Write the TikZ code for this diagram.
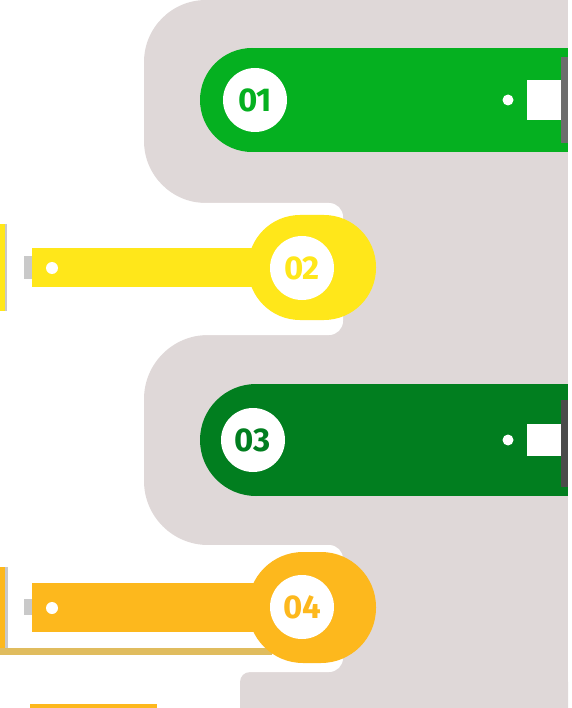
\documentclass[tikz,border=0pt]{standalone}
\usepackage{fontspec}
\setmainfont{Fira Sans}
\definecolor{grisbanda}{HTML}{DFD8D8}
\definecolor{verde}{HTML}{05B020}
\definecolor{verdeosc}{HTML}{017E1F}
\definecolor{amarillo}{HTML}{FFE71A}
\definecolor{naranja}{HTML}{FDB81D}
\definecolor{dorado}{HTML}{E0BC5E}
\definecolor{gristab}{HTML}{C9C9C9}
\definecolor{grisbarra}{HTML}{6D6D6D}
\definecolor{grisbarraosc}{HTML}{4B4B4B}
\begin{document}
\begin{tikzpicture}[x=1pt,y=-1pt,
    badge/.style={circle,fill=white,minimum size=64pt,inner sep=0pt,
        font=\bfseries\fontsize{33}{33}\selectfont}]
    \useasboundingbox (0,0) rectangle (571,708);
    % Banda gris de fondo
    \fill[grisbanda] (343,0) rectangle (568,708);
    \fill[grisbanda] (206,0) rectangle (568,203);
    \fill[grisbanda,rounded corners=62pt] (144,0) rectangle (320,203);
    \fill[grisbanda] (206,335) rectangle (568,545);
    \fill[grisbanda,rounded corners=64pt] (144,335) rectangle (320,545);
    \fill[grisbanda,rounded corners=10pt] (240,672) rectangle (568,760);
    \fill[grisbanda] (320,190) rectangle (343,690);
    \fill[white,rounded corners=14pt] (100,203) rectangle (343,335);
    \fill[white,rounded corners=14pt] (100,545) rectangle (343,672);

    % Tarjeta 01
    \fill[verde] (252,48) rectangle (568,152);
    \fill[verde] (252,100) circle (52pt);
    \fill[white] (527,80) rectangle (561,120);
    \fill[grisbarra] (561,57) rectangle (568,143);
    \fill[white] (508,100) circle (5.5pt);
    \node[badge,text=verde] (n1) at (255,100) {01};

    % Tarjeta 02
    \fill[amarillo] (0,224) rectangle (5,311);
    \fill[gristab] (5,224) rectangle (7,311);
    \fill[gristab] (24,256) rectangle (32,279);
    \fill[amarillo] (32,248) rectangle (300,287);
    \fill[amarillo,rounded corners=52pt] (248,215) rectangle (376,320);
    \fill[white] (52,268) circle (6pt);
    \node[badge,text=amarillo] (n2) at (302,268) {02};

    % Tarjeta 03
    \fill[verdeosc] (256,384) rectangle (568,496);
    \fill[verdeosc] (256,440) circle (56pt);
    \fill[white] (527,424) rectangle (561,456);
    \fill[grisbarraosc] (561,400) rectangle (568,487);
    \fill[white] (508,440) circle (5.5pt);
    \node[badge,text=verdeosc] (n3) at (253,440) {03};

    % Tarjeta 04
    \fill[naranja] (0,567) rectangle (5,648);
    \fill[gristab] (5,567) rectangle (8,648);
    \fill[dorado] (0,648) rectangle (272,655);
    \fill[gristab] (24,599) rectangle (32,615);
    \fill[naranja] (32,583) rectangle (300,632);
    \fill[naranja,rounded corners=55pt] (248,552) rectangle (376,663);
    \fill[white] (52,608) circle (6pt);
    \node[badge,text=naranja] (n4) at (302,607) {04};

    % Tira inferior
    \fill[naranja] (30,704) rectangle (157,712);
\end{tikzpicture}
\end{document}
